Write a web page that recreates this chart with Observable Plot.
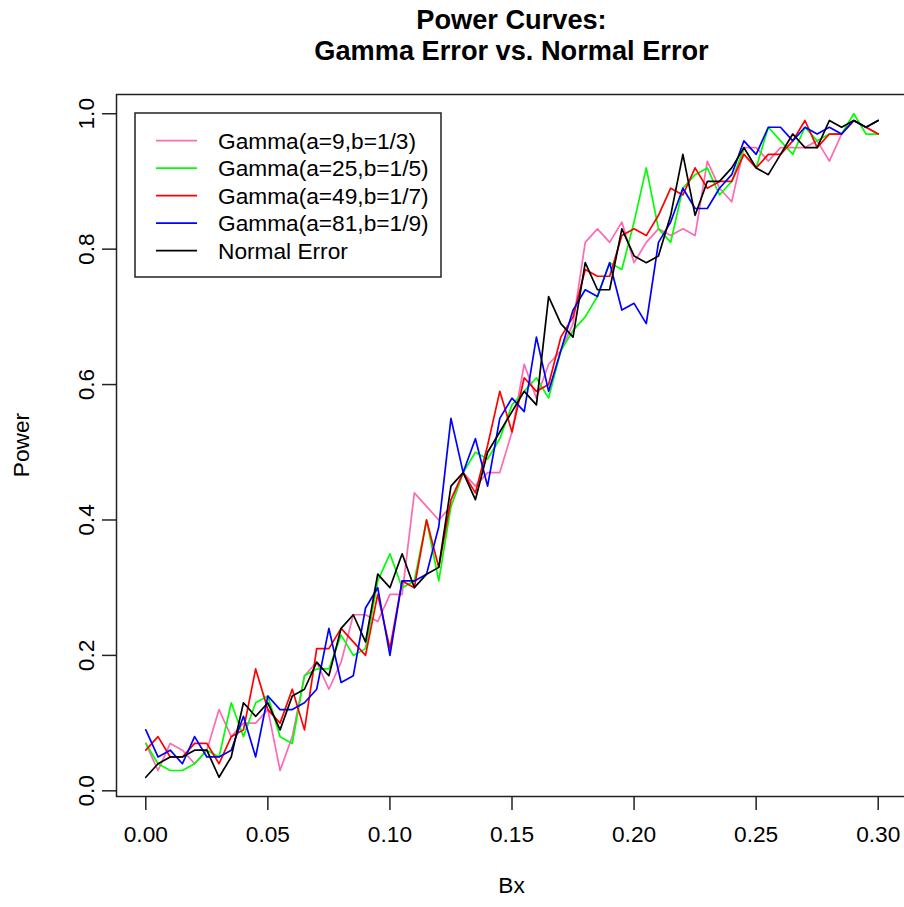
<!DOCTYPE html>
<html>
<head>
<meta charset="utf-8">
<script src="https://cdn.jsdelivr.net/npm/d3@7"></script>
<script src="https://cdn.jsdelivr.net/npm/@observablehq/plot@0.6"></script>
<style>
  html, body { margin: 0; padding: 0; background: white; overflow: hidden; }
  #chart svg { display: block; overflow: hidden; }
</style>
</head>
<body>
<div id="chart"></div>
<script>
const titleLines = ["Power Curves:", "Gamma Error vs. Normal Error"];
const xLabel = "Bx";
const yLabel = "Power";
const xTicks = [0, 0.05, 0.10, 0.15, 0.20, 0.25, 0.30];
const yTicks = [0, 0.2, 0.4, 0.6, 0.8, 1.0];

const bx = [0,0.005,0.01,0.015,0.02,0.025,0.03,0.035,0.04,0.045,0.05,0.055,0.06,0.065,0.07,0.075,0.08,0.085,0.09,0.095,0.1,0.105,0.11,0.115,0.12,0.125,0.13,0.135,0.14,0.145,0.15,0.155,0.16,0.165,0.17,0.175,0.18,0.185,0.19,0.195,0.2,0.205,0.21,0.215,0.22,0.225,0.23,0.235,0.24,0.245,0.25,0.255,0.26,0.265,0.27,0.275,0.28,0.285,0.29,0.295,0.3];

const gamma9 = [.07,.03,.07,.06,.04,.06,.12,.08,.10,.10, .12,.03,.08,.17,.19,.15,.19,.26,.26,.25, .29,.29,.44,.42,.40,.42,.47,.45,.47,.47, .53,.63,.58,.63,.65,.69,.81,.83,.81,.84, .78,.81,.83,.82,.83,.82,.93,.89,.87,.95, .95,.93,.95,.95,.95,.96,.93,.97,.99,.98, .97];
const gamma25 = [.07,.04,.03,.03,.04,.06,.05,.13,.08,.13, .14,.08,.07,.17,.18,.18,.23,.20,.21,.31, .35,.30,.31,.40,.31,.42,.47,.50,.49,.52, .57,.59,.61,.58,.65,.68,.70,.73,.78,.77, .84,.92,.83,.81,.89,.91,.92,.88,.90,.95, .92,.98,.96,.94,.98,.96,.97,.97,1.00,.97, .97];
const gamma49 = [.06,.08,.05,.05,.07,.07,.04,.08,.09,.18, .12,.10,.15,.09,.21,.21,.24,.22,.20,.29, .21,.31,.30,.40,.33,.43,.47,.44,.51,.59, .53,.61,.59,.60,.67,.70,.77,.76,.76,.82, .83,.82,.85,.89,.88,.92,.89,.90,.90,.94, .92,.94,.94,.96,.99,.95,.97,.97,.99,.98, .97];
const gamma81 = [.09,.05,.06,.04,.08,.05,.05,.06,.11,.05, .14,.12,.12,.13,.15,.24,.16,.17,.27,.30, .20,.31,.31,.32,.39,.55,.47,.52,.45,.55, .58,.56,.67,.59,.65,.71,.74,.73,.78,.71, .72,.69,.81,.84,.89,.86,.86,.89,.91,.96, .94,.98,.98,.96,.98,.97,.98,.97,.99,.98, .99];
const normal = [.02,.04,.05,.05,.06,.06,.02,.05,.13,.11, .13,.09,.14,.15,.19,.17,.24,.26,.22,.32, .30,.35,.30,.32,.33,.45,.47,.43,.50,.53, .56,.59,.57,.73,.69,.67,.78,.74,.74,.83, .79,.78,.79,.85,.94,.85,.90,.90,.92,.95, .92,.91,.94,.97,.95,.95,.99,.98,.99,.98, .99];

const seriesNames = ["Gamma(a=9,b=1/3)", "Gamma(a=25,b=1/5)", "Gamma(a=49,b=1/7)", "Gamma(a=81,b=1/9)", "Normal Error"];
const seriesColors = ["#FF69B4", "#00FF00", "#FF0000", "#0000FF", "#000000"];
const seriesValues = [gamma9, gamma25, gamma49, gamma81, normal];

const FONT = "'Liberation Sans', Arial, Helvetica, sans-serif";
const FS = 22.7;

const rows = seriesValues.map((vals) => bx.map((x, i) => ({x, y: vals[i]})));

const chart = Plot.plot({
  width: 904,
  height: 907,
  marginLeft: 116,
  marginRight: -3,
  marginTop: 94,
  marginBottom: 111,
  x: {domain: [-0.012, 0.312]},
  y: {domain: [-0.0084, 1.0284]},
  style: {fontFamily: FONT, fontSize: FS + "px", background: "white", color: "black"},
  marks: [
    ...rows.map((data, k) => Plot.line(data, {x: "x", y: "y", stroke: seriesColors[k], strokeWidth: 1.7})),
    Plot.frame({stroke: "#222", strokeWidth: 1.5}),
    Plot.axisX({ticks: xTicks, tickSize: 14, tickPadding: 15, tickFormat: d3.format(".2f"), fontSize: FS, label: null, strokeWidth: 1.5, stroke: "#222"}),
    Plot.axisY({ticks: yTicks, tickSize: 14, tickPadding: 9, tickRotate: -90, tickFormat: d3.format(".1f"), fontSize: FS, label: null, strokeWidth: 1.5, stroke: "#222"})
  ]
});

document.getElementById("chart").appendChild(chart);
const svg = d3.select(chart);

// Title
titleLines.forEach((t, i) => {
  svg.append("text")
    .attr("x", 511.5).attr("y", 29 + i * 31)
    .attr("text-anchor", "middle")
    .attr("font-family", FONT).attr("font-size", 27.2).attr("font-weight", "bold")
    .attr("fill", "black")
    .text(t);
});

// Axis titles
svg.append("text")
  .attr("x", 511.5).attr("y", 893)
  .attr("text-anchor", "middle")
  .attr("font-family", FONT).attr("font-size", FS).attr("fill", "black")
  .text(xLabel);
svg.append("text")
  .attr("transform", "translate(29,445) rotate(-90)")
  .attr("text-anchor", "middle")
  .attr("font-family", FONT).attr("font-size", FS).attr("fill", "black")
  .text(yLabel);

// Legend
const lg = svg.append("g").attr("text-anchor", "start");
lg.append("rect")
  .attr("x", 135).attr("y", 113).attr("width", 306).attr("height", 164)
  .attr("fill", "white").attr("stroke", "#222").attr("stroke-width", 1.5);
seriesNames.forEach((name, i) => {
  const yy = 140.7 + i * 27.5;
  lg.append("line")
    .attr("x1", 156).attr("x2", 197).attr("y1", yy).attr("y2", yy)
    .attr("stroke", seriesColors[i]).attr("stroke-width", 1.7);
  lg.append("text")
    .attr("x", 218).attr("y", yy).attr("dy", "0.36em")
    .attr("text-anchor", "start")
    .attr("font-family", FONT).attr("font-size", FS).attr("fill", "black")
    .text(name);
});
</script>
</body>
</html>
